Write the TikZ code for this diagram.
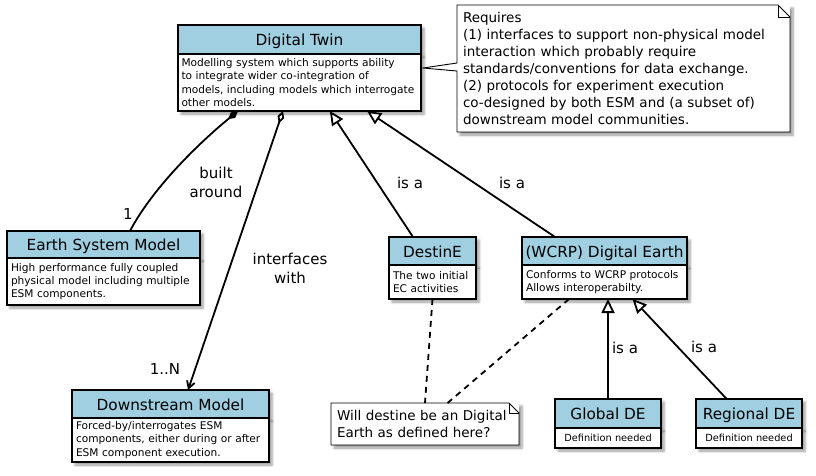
\documentclass[tikz,border=0pt]{standalone}
\usepackage{fontspec}
\setmainfont{DejaVu Sans}
\usetikzlibrary{arrows.meta}
\usetikzlibrary{calc}
\usetikzlibrary{positioning}
\usetikzlibrary{shadows.blur}
\definecolor{ClassHead}{HTML}{9FCFE0}

\tikzset{
  boxshadow/.style={blur shadow={shadow xshift=3pt, shadow yshift=-3pt,
      shadow blur radius=2.5pt, shadow opacity=40}},
  classhead/.style={draw, line width=1.8pt, fill=ClassHead, anchor=north west,
    inner sep=0pt, outer sep=0pt, text height=12.5pt, text depth=0pt,
    font=\fontsize{15.3}{18}\selectfont, boxshadow},
  classbody/.style={draw, line width=1.8pt, fill=white, align=left,
    inner xsep=4pt, inner ysep=0pt, outer sep=0pt,
    font=\fontsize{10.6}{13.3}\selectfont, boxshadow},
  notebox/.style={fill=white, anchor=north west, align=left,
    inner xsep=6pt, inner ysep=4pt, outer sep=0pt,
    font=\fontsize{13.5}{17}\selectfont, boxshadow},
  noteline/.style={line width=0.9pt, line join=miter},
  linklabel/.style={align=center, inner sep=0pt,
    font=\fontsize{15}{19}\selectfont},
  link/.style={line width=1.8pt},
  isa/.style={link, -{Triangle[open, fill=white, length=14pt, width=13pt]}},
  notelink/.style={link, dash pattern=on 6pt off 5pt}
}

\begin{document}
\begin{tikzpicture}[x=1pt, y=-1pt]
  \useasboundingbox (0,0) rectangle (816,475);

  % classes
  \node[classhead, minimum width=243pt, minimum height=29pt] (dt) at (178,25) {Digital Twin};
  \node[classbody, below=0pt of dt, text width=236pt, minimum height=57pt, inner xsep=3.5pt] (dtbody)
    {Modelling system which supports ability\\to integrate wider co-integration of\\models, including models which interrogate\\other models.};

  \node[classhead, minimum width=193pt, minimum height=27pt] (esm) at (7,231) {Earth System Model};
  \node[classbody, below=0pt of esm, text width=185pt, minimum height=47pt] (esmbody)
    {High performance fully coupled\\physical model including multiple\\ESM components.};

  \node[classhead, minimum width=197pt, minimum height=28pt] (dm) at (72,390) {Downstream Model};
  \node[classbody, below=0pt of dm, text width=189pt, minimum height=44pt] (dmbody)
    {Forced-by/interrogates ESM\\components, either during or after\\ESM component execution.};

  \node[classhead, minimum width=87pt, minimum height=28pt] (destine) at (389,237) {DestinE};
  \node[classbody, below=0pt of destine, text width=79pt, minimum height=34pt] (destinebody)
    {The two initial\\EC activities};

  \node[classhead, minimum width=165pt, minimum height=28pt] (wcrp) at (522,237) {(WCRP) Digital Earth};
  \node[classbody, below=0pt of wcrp, text width=157pt, minimum height=34pt] (wcrpbody)
    {Conforms to WCRP protocols\\Allows interoperabilty.};

  \node[classhead, minimum width=106pt, minimum height=29pt] (globalde) at (555,399) {Global DE};
  \node[classbody, below=0pt of globalde, text width=98pt, minimum height=20pt, align=center,
    font=\fontsize{9.8}{12}\selectfont] (globalbody) {Definition needed};

  \node[classhead, minimum width=106pt, minimum height=29pt] (regionalde) at (696,399) {Regional DE};
  \node[classbody, below=0pt of regionalde, text width=98pt, minimum height=20pt, align=center,
    font=\fontsize{9.8}{12}\selectfont] (regionalbody) {Definition needed};

  % notes
  \node[notebox, text width=321pt, minimum height=127pt] (req) at (457,5)
    {Requires\\(1) interfaces to support non-physical model\\interaction which probably require\\standards/conventions for data exchange.\\(2) protocols for experiment execution\\co-designed by both ESM and (a subset of)\\downstream model communities.};
  \coordinate (requp) at ($(req.north west)+(0,58)$);
  \coordinate (reqlow) at ($(req.north west)+(0,66)$);
  \coordinate (reqtip) at ($(dt.south east)+(2,14)$);
  \coordinate (reqfolda) at ($(req.north east)+(-12,0)$);
  \coordinate (reqfoldb) at ($(req.north east)+(0,12)$);
  \fill[white] (requp) -- (reqtip) -- (reqlow) -- cycle;
  \draw[noteline] (req.south west) -- (reqlow) -- (reqtip) -- (requp) -- (req.north west)
    -- (reqfolda) -- (reqfoldb) -- (req.south east) -- cycle;
  \draw[noteline] (reqfolda) |- (reqfoldb);

  \node[notebox, text width=176pt, minimum height=42pt] (willnote) at (331,403)
    {Will destine be an Digital\\Earth as defined here?};
  \coordinate (willfolda) at ($(willnote.north east)+(-10,0)$);
  \coordinate (willfoldb) at ($(willnote.north east)+(0,10)$);
  \draw[noteline] (willnote.south west) -- (willnote.north west) -- (willfolda)
    -- (willfoldb) -- (willnote.south east) -- cycle;
  \draw[noteline] (willfolda) |- (willfoldb);

  % associations
  \draw[link, {Diamond[length=13pt, width=7pt]}-]
    ($(dtbody.south west)!0.247!(dtbody.south east)$) .. controls +(-33,27) and +(25,-47)
    .. ($(esm.north west)!0.637!(esm.north east)$);
  \draw[link, {Diamond[open, fill=white, length=13pt, width=7pt]}-{Straight Barb[length=7pt, width=8pt]}]
    ($(dtbody.south west)!0.432!(dtbody.south east)$) -- ($(dm.north west)!0.589!(dm.north east)$);

  % generalisations
  \draw[isa] ($(destine.north west)!0.276!(destine.north east)$) -- ($(dtbody.south west)!0.625!(dtbody.south east)$);
  \draw[isa] ($(wcrp.north west)!0.2!(wcrp.north east)$) -- ($(dtbody.south west)!0.778!(dtbody.south east)$);
  \draw[isa] (globalde.north) -- (globalde.north |- wcrpbody.south);
  \draw[isa] ($(regionalde.north west)!0.29!(regionalde.north east)$) -- ($(wcrpbody.south west)!0.67!(wcrpbody.south east)$);

  % note anchors
  \draw[notelink] (destinebody.south) -- (willnote.north);
  \draw[notelink] ($(wcrpbody.south west)!0.285!(wcrpbody.south east)$) -- ($(willnote.north west)!0.62!(willnote.north east)$);

  % labels
  \node[linklabel] (builtlbl) at (216,182) {built\\around};
  \node[linklabel] (esmmult) at (128,214) {1};
  \node[linklabel] (intflbl) at (290,268) {interfaces\\with};
  \node[linklabel] (dmmult) at (165,369) {1..N};
  \node[linklabel] (destineisa) at (410,183) {is a};
  \node[linklabel] (wcrpisa) at (512,183) {is a};
  \node[linklabel] (globalisa) at (625,348) {is a};
  \node[linklabel] (regionalisa) at (704,347) {is a};
\end{tikzpicture}
\end{document}
